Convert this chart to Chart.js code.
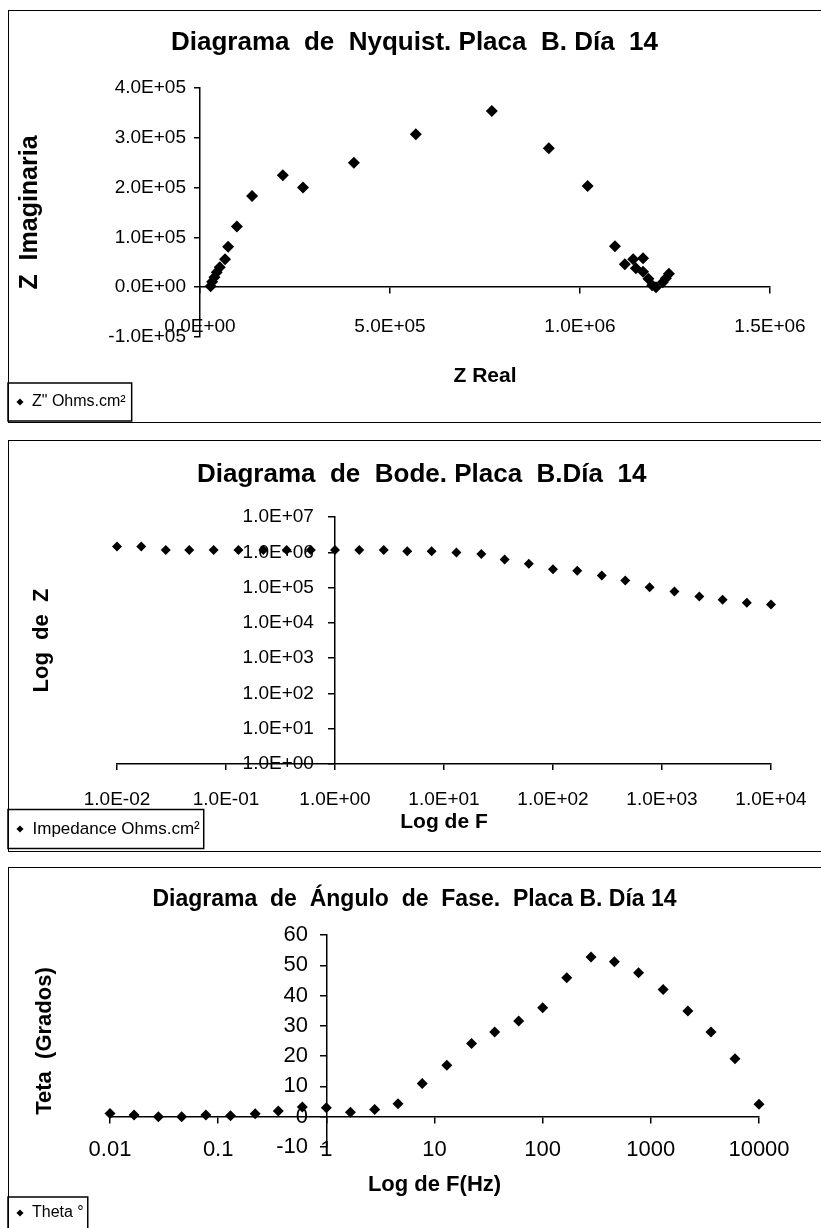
<!DOCTYPE html>
<html>
<head>
<meta charset="utf-8">
<title>Placa B. Día 14</title>
<script src="https://cdn.jsdelivr.net/npm/chart.js@4.4.1/dist/chart.umd.min.js"></script>
<style>
  html, body { margin: 0; padding: 0; background: #fff; }
  body { width: 821px; height: 1228px; position: relative; overflow: hidden; }
  .panel { position: absolute; left: 8px; width: 830px; border: 1px solid #000; }
  canvas { position: absolute; left: 0; }
</style>
</head>
<body>
<div class="panel" style="top:10px;height:411px"></div>
<div class="panel" style="top:440px;height:410px"></div>
<div class="panel" style="top:867px;height:400px"></div>
<canvas id="nyquist" width="821" height="425" style="top:0"></canvas>
<canvas id="bode" width="821" height="445" style="top:425px"></canvas>
<canvas id="phase" width="821" height="373" style="top:855px"></canvas>
<script>
// -----------------------------
// Data
// -----------------------------
// frequencies, Hz (Bode + phase)
const freq = [0.01, 0.0167, 0.028, 0.046, 0.077, 0.13, 0.22, 0.36, 0.6, 1,
  1.67, 2.8, 4.6, 7.7, 13, 22, 36, 60, 100, 167, 280, 460, 770, 1300, 2200, 3600, 6000, 10000];

// Nyquist: Z' and Z'' (Ohms.cm²)
const zReal = [2.8e4, 3.2e4, 3.8e4, 4.4e4, 5.2e4, 6.6e4, 7.4e4, 9.7e4, 1.37e5, 2.18e5, 2.71e5,
  4.05e5, 5.68e5, 7.68e5, 9.18e5, 1.02e6, 1.092e6, 1.118e6, 1.14e6, 1.166e6, 1.147e6, 1.166e6,
  1.18e6, 1.19e6, 1.2e6, 1.218e6, 1.226e6, 1.234e6];
const zImag = [2e3, 1.1e4, 2.0e4, 3.0e4, 4.0e4, 5.6e4, 8.1e4, 1.22e5, 1.83e5, 2.25e5, 2.0e5,
  2.5e5, 3.07e5, 3.54e5, 2.79e5, 2.03e5, 8.2e4, 4.6e4, 5.6e4, 5.8e4, 3.8e4, 3.1e4,
  1.7e4, 4e3, 0, 1.0e4, 1.8e4, 2.7e4];

// Bode: |Z| (Ohms.cm²)
const zMod = [1.45e6, 1.45e6, 1.17e6, 1.17e6, 1.17e6, 1.17e6, 1.17e6, 1.17e6, 1.17e6, 1.17e6,
  1.17e6, 1.17e6, 1.07e6, 1.07e6, 9.8e5, 9.0e5, 6.2e5, 4.7e5, 3.3e5, 3.0e5, 2.2e5, 1.58e5,
  1.02e5, 7.7e4, 5.6e4, 4.5e4, 3.7e4, 3.3e4];

// Phase angle (degrees)
const theta = [1.1, 0.6, 0, 0, 0.6, 0.3, 1.0, 1.9, 3.2, 3.0, 1.5, 2.4, 4.3, 11.0, 17.0, 24.2,
  28.0, 31.6, 36.0, 45.9, 52.7, 51.2, 47.5, 42.0, 34.9, 28.0, 19.1, 4.1];

// --- tick values / labels ---
const nyqXTicks = [0, 5e5, 1e6, 1.5e6];
const nyqXLabels = ["0.0E+00", "5.0E+05", "1.0E+06", "1.5E+06"];
const nyqYTicks = [-1e5, 0, 1e5, 2e5, 3e5, 4e5];
const nyqYLabels = ["-1.0E+05", "0.0E+00", "1.0E+05", "2.0E+05", "3.0E+05", "4.0E+05"];

const bodeXTicks = [1e-2, 1e-1, 1, 1e1, 1e2, 1e3, 1e4];
const bodeXLabels = ["1.0E-02", "1.0E-01", "1.0E+00", "1.0E+01", "1.0E+02", "1.0E+03", "1.0E+04"];
const bodeYTicks = [1, 1e1, 1e2, 1e3, 1e4, 1e5, 1e6, 1e7];
const bodeYLabels = ["1.0E+00", "1.0E+01", "1.0E+02", "1.0E+03", "1.0E+04", "1.0E+05", "1.0E+06", "1.0E+07"];

const phaseXTicks = [0.01, 0.1, 1, 10, 100, 1000, 10000];
const phaseXLabels = ["0.01", "0.1", "1", "10", "100", "1000", "10000"];
const phaseYTicks = [-10, 0, 10, 20, 30, 40, 50, 60];
const phaseYLabels = ["-10", "0", "10", "20", "30", "40", "50", "60"];

// -----------------------------
// Shared bits
// -----------------------------
Chart.defaults.font.family = 'Arial, "Liberation Sans", sans-serif';
Chart.defaults.color = "#000";

const fixedTicks = (values) => (scale) => {
  scale.ticks = values.map((v) => ({ value: v }));
};

const axisLook = {
  border: { display: true, color: "#000", width: 1.5 },
  grid: { display: true, drawOnChartArea: false, drawTicks: true, tickLength: 6, color: "#000", lineWidth: 1.5 },
};

const bold = (size) => ({ size, weight: "bold" });

// legend sits in a small framed box in the lower-left corner
const legendFrame = {
  id: "legendFrame",
  afterLayout(chart, args, opts) {
    const lg = chart.legend;
    if (!lg || !opts.shift) return;
    lg.top += opts.shift;
    lg.bottom += opts.shift;
  },
  afterDraw(chart, args, opts) {
    const lg = chart.legend;
    const hb = lg && lg.legendHitBoxes && lg.legendHitBoxes[0];
    if (!hb) return;
    const ctx = chart.ctx;
    ctx.save();
    ctx.strokeStyle = "#000";
    ctx.lineWidth = 1.5;
    ctx.strokeRect(lg.left, hb.top - opts.padY, hb.left + hb.width + opts.padRight - lg.left, hb.height + 2 * opts.padY);
    ctx.restore();
  },
};

function legendOpts(size) {
  return {
    position: "bottom",
    align: "start",
    labels: { usePointStyle: true, pointStyle: "rectRot", boxWidth: 8, boxHeight: 5, padding: 8, font: { size }, color: "#000" },
  };
}

const base = { responsive: false, animation: false, devicePixelRatio: 1, events: [] };

// -----------------------------
// Nyquist
// -----------------------------
new Chart(document.getElementById("nyquist"), {
  type: "scatter",
  data: {
    datasets: [{
      label: 'Z" Ohms.cm²',
      data: zReal.map((x, i) => ({ x, y: zImag[i] })),
      xAxisID: "x", yAxisID: "y",
      pointStyle: "rectRot", pointRadius: 6, backgroundColor: "#000", borderColor: "#000", borderWidth: 0,
      clip: false,
    }],
  },
  options: {
    ...base,
    layout: { padding: { left: 8, right: 0, top: 0, bottom: 54 } },
    plugins: {
      title: { display: true, text: "Diagrama  de  Nyquist. Placa  B. Día  14", font: bold(26), color: "#000", padding: { top: 27.4, bottom: 29.4 } },
      legend: legendOpts(16),
      legendFrame: { shift: 49, padY: 11, padRight: 6 },
      tooltip: { enabled: false },
    },
    scales: {
      x: {
        type: "linear", position: { y: 0 }, min: 0, max: 1.5e6, ...axisLook,
        afterBuildTicks: fixedTicks(nyqXTicks),
        ticks: { callback: (v, i) => nyqXLabels[i], font: { size: 19 }, padding: 22, maxRotation: 0, autoSkip: false },
        title: { display: true, text: "Z Real", font: bold(21), padding: 0 },
        afterFit(s) { s.height = 101.6; s.paddingLeft = 0; s.paddingRight = 51; },
      },
      y: {
        type: "linear", position: "left", min: -1e5, max: 4e5, ...axisLook,
        afterBuildTicks: fixedTicks(nyqYTicks),
        ticks: { callback: (v, i) => nyqYLabels[i], font: { size: 19 }, padding: 8, autoSkip: false },
        title: { display: true, text: "Z  Imaginaria", font: bold(25), padding: { top: 7, bottom: 0 } },
        afterFit(s) { s.width = 192; s.paddingTop = 0; s.paddingBottom = 0; },
      },
    },
  },
  plugins: [legendFrame],
});

// -----------------------------
// Bode
// -----------------------------
new Chart(document.getElementById("bode"), {
  type: "scatter",
  data: {
    datasets: [{
      label: "Impedance Ohms.cm²",
      data: freq.map((f, i) => ({ x: f, y: zMod[i] })),
      xAxisID: "x", yAxisID: "y",
      pointStyle: "rectRot", pointRadius: 5, backgroundColor: "#000", borderColor: "#000", borderWidth: 0,
      clip: false,
    }],
  },
  options: {
    ...base,
    layout: { padding: { left: 8, right: 0, top: 0, bottom: 0 } },
    plugins: {
      title: { display: true, text: "  Diagrama  de  Bode. Placa  B.Día  14", font: bold(26), color: "#000", padding: { top: 34.4, bottom: 26.4 } },
      legend: legendOpts(17),
      legendFrame: { shift: -22.5, padY: 11, padRight: 4 },
      tooltip: { enabled: false },
    },
    scales: {
      x: {
        type: "logarithmic", position: "bottom", min: 1e-2, max: 1e4, ...axisLook,
        afterBuildTicks: fixedTicks(bodeXTicks),
        ticks: { callback: (v, i) => bodeXLabels[i], font: { size: 19 }, padding: 18.6, maxRotation: 0, autoSkip: false },
        title: { display: true, text: "Log de F", font: bold(21), padding: 0 },
        afterFit(s) { s.height = 71; s.paddingLeft = 0; s.paddingRight = 50; },
      },
      y: {
        type: "logarithmic", position: { x: 1 }, min: 1, max: 1e7, ...axisLook,
        afterBuildTicks: fixedTicks(bodeYTicks),
        ticks: { callback: (v, i) => bodeYLabels[i] + "    ", font: { size: 19 }, autoSkip: false },
        afterFit(s) { s.width = 0; s.paddingTop = 0; s.paddingBottom = 0; },
      },
      yt: {
        type: "linear", position: "left", display: true,
        grid: { display: false }, border: { display: false }, ticks: { display: false },
        title: { display: true, text: "Log  de  Z", font: bold(22), padding: { top: 20.8, bottom: 0 } },
        afterFit(s) { s.width = 109; s.paddingTop = 0; s.paddingBottom = 0; },
      },
    },
  },
  plugins: [legendFrame],
});

// -----------------------------
// Phase angle
// -----------------------------
new Chart(document.getElementById("phase"), {
  type: "scatter",
  data: {
    datasets: [{
      label: "Theta °",
      data: freq.map((f, i) => ({ x: f, y: theta[i] })),
      xAxisID: "x", yAxisID: "y",
      pointStyle: "rectRot", pointRadius: 5.5, backgroundColor: "#000", borderColor: "#000", borderWidth: 0,
      clip: false,
    }],
  },
  options: {
    ...base,
    layout: { padding: { left: 8, right: 0, top: 0, bottom: 47 } },
    plugins: {
      title: { display: true, text: "Diagrama  de  Ángulo  de  Fase.  Placa B. Día 14", font: bold(23), color: "#000", padding: { top: 31.2, bottom: 21.2 } },
      legend: legendOpts(16),
      legendFrame: { shift: 50, padY: 8, padRight: 4 },
      tooltip: { enabled: false },
    },
    scales: {
      x: {
        type: "logarithmic", position: { y: 0 }, min: 1e-2, max: 1e4, ...axisLook,
        afterBuildTicks: fixedTicks(phaseXTicks),
        ticks: { callback: (v, i) => phaseXLabels[i], font: { size: 22 }, padding: 13.8, maxRotation: 0, autoSkip: false },
        title: { display: true, text: "Log de F(Hz)", font: bold(22), padding: 0 },
        afterFit(s) { s.height = 81.2; s.paddingLeft = 0; s.paddingRight = 62; },
      },
      y: {
        type: "linear", position: { x: 1 }, min: -10, max: 60, ...axisLook,
        afterBuildTicks: fixedTicks(phaseYTicks),
        ticks: { callback: (v, i) => phaseYLabels[i] + "   ", font: { size: 22 }, autoSkip: false },
        afterFit(s) { s.width = 0; s.paddingTop = 0; s.paddingBottom = 0; },
      },
      yt: {
        type: "linear", position: "left", display: true,
        grid: { display: false }, border: { display: false }, ticks: { display: false },
        title: { display: true, text: "Teta  (Grados)", font: bold(22), padding: { top: 23.8, bottom: 0 } },
        afterFit(s) { s.width = 102; s.paddingTop = 0; s.paddingBottom = 0; },
      },
    },
  },
  plugins: [legendFrame],
});
</script>
</body>
</html>
